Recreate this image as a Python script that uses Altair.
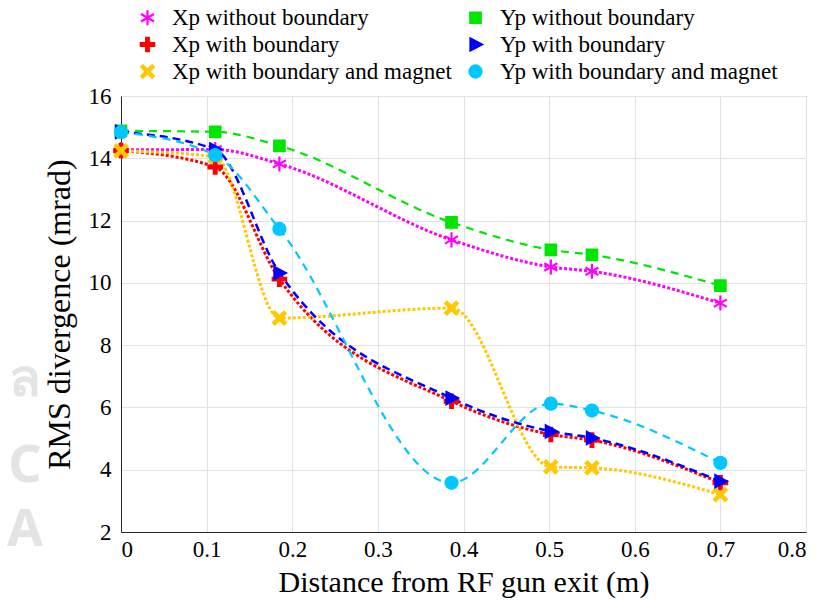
import math
import altair as alt
import pandas as pd

# Distance from the RF gun exit (m) at each sampled position
dist = [0.0, 0.11, 0.185, 0.386, 0.502, 0.55, 0.70]

# RMS divergence (mrad) for each case
xp_without = [14.27, 14.28, 13.82, 11.38, 10.51, 10.37, 9.35]
yp_without = [14.88, 14.85, 14.40, 11.94, 11.06, 10.90, 9.91]
xp_with = [14.25, 13.72, 10.12, 6.20, 5.13, 4.95, 3.58]
yp_with = [14.85, 14.28, 10.32, 6.30, 5.23, 5.02, 3.63]
xp_magnet = [14.24, 14.05, 8.87, 9.19, 4.09, 4.06, 3.20]
yp_magnet = [14.84, 14.10, 11.73, 3.58, 6.12, 5.90, 4.22]

# legend fills column by column: the Xp cases first, then the Yp cases
names = [
    "Xp without boundary",
    "Xp with boundary",
    "Xp with boundary and magnet",
    "Yp without boundary",
    "Yp with boundary",
    "Yp with boundary and magnet",
]
series = [xp_without, xp_with, xp_magnet, yp_without, yp_with, yp_magnet]

colors = ["#ff00ff", "#ff0000", "#ffc800", "#00e600", "#0000ff", "#00c8ff"]
dashes = [[3, 2], [3, 2], [3, 2], [8, 6], [8, 5], [8, 6]]
widths = [3, 3, 3, 2.2, 2.5, 2.2]


def plus_path(a, b):
    return [(-a, -b), (a, -b), (a, -a), (b, -a), (b, a), (a, a),
            (a, b), (-a, b), (-a, a), (-b, a), (-b, -a), (-a, -a)]


def to_path(pts):
    return "M" + "L".join(f"{x:.3f},{y:.3f}" for x, y in pts) + "Z"


def rotate(pts, deg):
    c, s = math.cos(math.radians(deg)), math.sin(math.radians(deg))
    return [(x * c - y * s, x * s + y * c) for x, y in pts]


def asterisk_path(r):
    parts = []
    for deg in (90, 30, -30):
        dx, dy = r * math.cos(math.radians(deg)), r * math.sin(math.radians(deg))
        parts.append(f"M{-dx:.3f},{-dy:.3f}L{dx:.3f},{dy:.3f}")
    return "".join(parts)


asterisk = asterisk_path(1.12)
plus = to_path(plus_path(0.2, 1.0))
cross = to_path(rotate(plus_path(0.18, 1.15), 45))
square = "M-0.78,-0.78L0.78,-0.78L0.78,0.78L-0.78,0.78Z"
triangle = "M-0.75,-0.9L0.95,0L-0.75,0.9Z"
circle = "M-0.9,0A0.9,0.9 0 1,0 0.9,0A0.9,0.9 0 1,0 -0.9,0Z"
shapes = [asterisk, plus, cross, square, triangle, circle]

rows = []
for name, vals in zip(names, series):
    for d, v in zip(dist, vals):
        rows.append({"dist": d, "rms": v, "series": name})
df = pd.DataFrame(rows)

FONT = "Liberation Serif"

x_enc = alt.X(
    "dist:Q",
    scale=alt.Scale(domain=[0, 0.8], nice=False, zero=False),
    axis=alt.Axis(
        title="Distance from RF gun exit (m)",
        values=[0, 0.1, 0.2, 0.3, 0.4, 0.5, 0.6, 0.7, 0.8],
        format=".1~f",
        labelPadding=6,
        titlePadding=6,
    ),
)
y_enc = alt.Y(
    "rms:Q",
    scale=alt.Scale(domain=[2, 16], nice=False, zero=False),
    axis=alt.Axis(
        title="RMS divergence (mrad)",
        values=[2, 4, 6, 8, 10, 12, 14, 16],
        labelPadding=10,
        titlePadding=12,
    ),
)

# faint letters of the page watermark along the left edge
wm_letters = [("ล", 380), ("C", 466), ("A", 530)]
watermark = [
    alt.Chart(pd.DataFrame({"t": [t]}))
    .mark_text(font="Noto Sans", fontSize=52, fontWeight="bold",
               color="#e4e4e4", align="center", baseline="middle")
    .encode(text="t:N", x=alt.value(-96), y=alt.value(py - 96))
    for t, py in wm_letters
]

layers = []
for name, color, dash, w in zip(names, colors, dashes, widths):
    layers.append(
        alt.Chart(df)
        .transform_filter(alt.datum.series == name)
        .mark_line(interpolate="monotone", color=color, strokeDash=dash,
                   strokeWidth=w)
        .encode(x=x_enc, y=y_enc)
    )

sc_color = alt.Scale(domain=names, range=colors)
points = (
    alt.Chart(df)
    .mark_point(filled=True, opacity=1, strokeWidth=2.2, size=180)
    .encode(
        x=x_enc,
        y=y_enc,
        color=alt.Color(
            "series:N",
            scale=sc_color,
            legend=alt.Legend(
                title=None,
                orient="none",
                legendX=15,
                legendY=-90,
                columns=2,
                columnPadding=12,
                rowPadding=3,
                symbolSize=180,
                symbolStrokeWidth=2.2,
                labelOffset=13,
                labelFont=FONT,
                labelFontSize=23,
                labelColor="#000000",
                labelLimit=400,
            ),
        ),
        stroke=alt.Stroke("series:N", scale=sc_color),
        shape=alt.Shape("series:N", scale=alt.Scale(domain=names, range=shapes)),
    )
)

chart = (
    alt.layer(*watermark, *layers, points)
    .properties(
        width=685,
        height=436,
        autosize=alt.AutoSizeParams(type="none"),
        padding={"left": 121, "top": 96, "right": 16, "bottom": 76},
    )
    .configure_view(stroke="#262626", strokeWidth=1)
    .configure_axis(
        labelFont=FONT,
        titleFont=FONT,
        labelFontSize=23,
        titleFontSize=30,
        titleFontWeight="normal",
        labelColor="#000000",
        titleColor="#000000",
        domainColor="#262626",
        grid=True,
        gridColor="#e2e2e2",
        ticks=False,
    )
    .configure_axisY(titleFontSize=32)
)

chart.save("out.html", embed_options={"renderer": "svg", "actions": False})
